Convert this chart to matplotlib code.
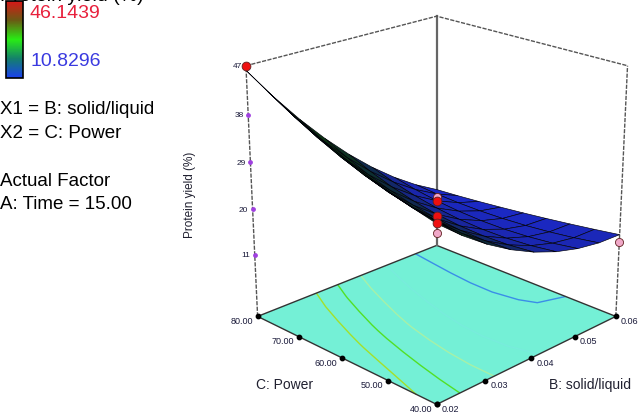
import numpy as np
import matplotlib
matplotlib.use('Agg')
import matplotlib.pyplot as plt
from matplotlib.colors import LinearSegmentedColormap, Normalize
from matplotlib.cm import ScalarMappable
from matplotlib.transforms import offset_copy

plt.rcParams['font.family'] = ['Liberation Sans', 'DejaVu Sans']

# factor levels of the response grid (B: solid/liquid, C: Power)
b_values = [0.020, 0.025, 0.030, 0.035, 0.040, 0.045, 0.050, 0.055, 0.060]
c_values = [40, 45, 50, 55, 60, 65, 70, 75, 80]

# protein yield (%), one row per B value, columns follow C
yield_grid = [
    [31.00, 32.21, 33.61, 35.21, 37.00, 38.98, 41.16, 43.53, 46.14],
    [27.16, 27.83, 28.76, 29.96, 31.42, 33.16, 35.16, 37.42, 39.96],
    [23.85, 24.06, 24.58, 25.41, 26.56, 28.03, 29.81, 31.90, 34.31],
    [21.06, 20.90, 21.07, 21.58, 22.42, 23.60, 25.12, 26.97, 29.16],
    [18.80, 18.35, 18.24, 18.45, 19.00, 19.88, 21.09, 22.63, 24.50],
    [17.06, 16.42, 16.08, 16.04, 16.30, 16.86, 17.72, 18.88, 20.33],
    [15.85, 15.10, 14.60, 14.33, 14.31, 14.54, 15.00, 15.71, 16.66],
    [15.16, 14.39, 13.79, 13.34, 13.05, 12.92, 12.95, 13.14, 13.49],
    [15.00, 14.30, 13.65, 13.05, 12.50, 12.00, 11.55, 11.15, 10.83],
]

# design points shown on the plot
design_b = [0.02, 0.06, 0.06, 0.04, 0.04, 0.04, 0.04]
design_c = [80, 40, 80, 60, 60, 60, 60]
design_y = [47.0, 13.6, 9.3, 21.6, 18.6, 17.3, 15.3]
design_above = [True, False, False, True, True, True, False]

b_ticks = [0.02, 0.03, 0.04, 0.05, 0.06]
b_tick_labels = ['0.02', '0.03', '0.04', '0.05', '0.06']
c_ticks = [40, 50, 60, 70, 80]
c_tick_labels = ['40.00', '50.00', '60.00', '70.00', '80.00']
z_ticks = [11, 20, 29, 38, 47]
contour_levels = [13.6, 18.2, 22.8, 27.4, 32.0]
contour_colors = ['#3a8ee8', '#78ecdc', '#a6f0a8', '#52e026', '#a4e02a']

legend_min = 10.8296
legend_max = 46.1439

z_floor = -1.5
z_top = 47

cmap = LinearSegmentedColormap.from_list(
    'de', ['#1a40f0', '#14806c', '#28ec14', '#6a5a14', '#d81818'])
# the meshed sheet reads darker than the legend: blue where low, near-black green where high
surf_cmap = LinearSegmentedColormap.from_list(
    'sheet', [(0.0, '#1c2ad0'), (0.2, '#1a26a8'), (0.35, '#0e2a40'),
              (0.5, '#0c3414'), (1.0, '#0a2a0a')])
norm = Normalize(legend_min, legend_max)

fig = plt.figure(figsize=(6.4, 4.14), dpi=100)
ax = fig.add_axes([0.319, -0.024, 0.708, 1.072], projection='3d', computed_zorder=False)
ax.set_proj_type('persp', focal_length=0.65)
ax.view_init(elev=21.5, azim=-135)
ax.set_box_aspect((1, 1, 1.03))
b0, b1 = b_values[0], b_values[-1]
c0, c1 = c_values[0], c_values[-1]
ax.set_xlim(b0, b1)
ax.set_ylim(c0, c1)
ax.set_zlim(z_floor, z_top)
ax.set_xticks([])
ax.set_yticks([])
ax.set_zticks([])
ax.set_axis_off()

B, C = np.meshgrid(b_values, c_values, indexing='ij')
Z = np.array(yield_grid)

# floor with contours
ax.plot_surface(np.array([[b0, b0], [b1, b1]]), np.array([[c0, c1], [c0, c1]]),
                np.full((2, 2), z_floor), color='#74f0d6', shade=False, zorder=1)
ax.contour(B, C, Z, levels=contour_levels, colors=contour_colors, zdir='z',
           offset=z_floor, linewidths=1.0, zorder=2)

# back frame
edge = dict(color='#555555', lw=1.0, zorder=3)
ax.plot([b1, b1], [c1, c1], [z_floor, z_top], color='#666666', lw=1.6, zorder=3)
ax.plot([b0, b0], [c1, c1], [z_floor, z_top], ls=(0, (3, 1)), **edge)
ax.plot([b1, b1], [c0, c0], [z_floor, z_top], ls=(0, (3, 1)), **edge)
ax.plot([b0, b1, b1], [c1, c1, c0], [z_top] * 3, ls=(0, (3, 1)), **edge)
ax.plot([b0, b1, b1], [c1, c1, c0], [z_floor] * 3, color='#333333', lw=1.0, zorder=2)

# response surface
ax.plot_surface(B, C, Z, facecolors=surf_cmap(norm(Z)), edgecolor='#000008', linewidth=0.45,
                shade=False, rstride=1, cstride=1, zorder=4)

# front floor edges and ticks
ax.plot([b0, b0, b1], [c1, c0, c0], [z_floor] * 3, color='#333333', lw=1.0, zorder=5)
ax.scatter([b0] * len(c_ticks), c_ticks, [z_floor] * len(c_ticks), s=10, c='k', zorder=6,
           depthshade=False)
ax.scatter(b_ticks, [c0] * len(b_ticks), [z_floor] * len(b_ticks), s=10, c='k', zorder=6,
           depthshade=False)
ax.scatter([b0] * len(z_ticks), [c1] * len(z_ticks), z_ticks, s=6, c='#a040e0', zorder=6,
           depthshade=False)

for c, lab in zip(c_ticks, c_tick_labels):
    ax.text(b0, c, z_floor, lab, fontsize=6.5, color='#1a1a3a', ha='right', va='center',
            transform=offset_copy(ax.transData, fig, x=-3.5, y=-3, units='points'), zorder=7)
for b, lab in zip(b_ticks, b_tick_labels):
    ax.text(b, c0, z_floor, lab, fontsize=6.5, color='#1a1a3a', ha='left', va='center',
            transform=offset_copy(ax.transData, fig, x=3.5, y=-3, units='points'), zorder=7)
for z in z_ticks:
    ax.text(b0, c1, z, str(z), fontsize=6, color='#1a1a3a', ha='right', va='center',
            transform=offset_copy(ax.transData, fig, x=-3, y=0, units='points'), zorder=7)

# design points
for b, c, y, above in zip(design_b, design_c, design_y, design_above):
    ax.scatter([b], [c], [y], s=40 if above else 34, c='#ee1010' if above else '#f0a8c8',
               edgecolors='#602020', linewidths=0.6, depthshade=False, zorder=8)

fig.text(285 / 640, 1 - 385 / 414, 'C: Power', fontsize=10, ha='center', va='center',
         color='#202030')
fig.text(590 / 640, 1 - 385 / 414, 'B: solid/liquid', fontsize=10, ha='center', va='center',
         color='#202030')
fig.text(190 / 640, 1 - 195 / 414, 'Protein yield (%)', fontsize=8.5, rotation=90,
         ha='center', va='center', color='#202030')

# legend block on the left
cax = fig.add_axes([6 / 640, 1 - 79 / 414, 17 / 640, 77 / 414])
cb = fig.colorbar(ScalarMappable(norm=norm, cmap=cmap), cax=cax)
cb.set_ticks([])
cb.outline.set_edgecolor('black')
cb.outline.set_linewidth(1.2)

fig.text(0.0, 1 - 1 / 414, 'Protein yield (%)', fontsize=14, va='baseline')
fig.text(30 / 640, 1 - 14 / 414, f'{legend_max:.4f}', fontsize=14, color='#e8203c',
         va='center')
fig.text(30 / 640, 1 - 62 / 414, f'{legend_min:.4f}', fontsize=14, color='#3a3ae0',
         va='center')
fig.text(0.0, 1 - 109 / 414, 'X1 = B: solid/liquid', fontsize=13.5, va='center')
fig.text(0.0, 1 - 133 / 414, 'X2 = C: Power', fontsize=13.5, va='center')
fig.text(0.0, 1 - 182 / 414, 'Actual Factor', fontsize=13.5, va='center')
fig.text(0.0, 1 - 205 / 414, 'A: Time = 15.00', fontsize=13.5, va='center')

fig.savefig('out.png', dpi=100)
